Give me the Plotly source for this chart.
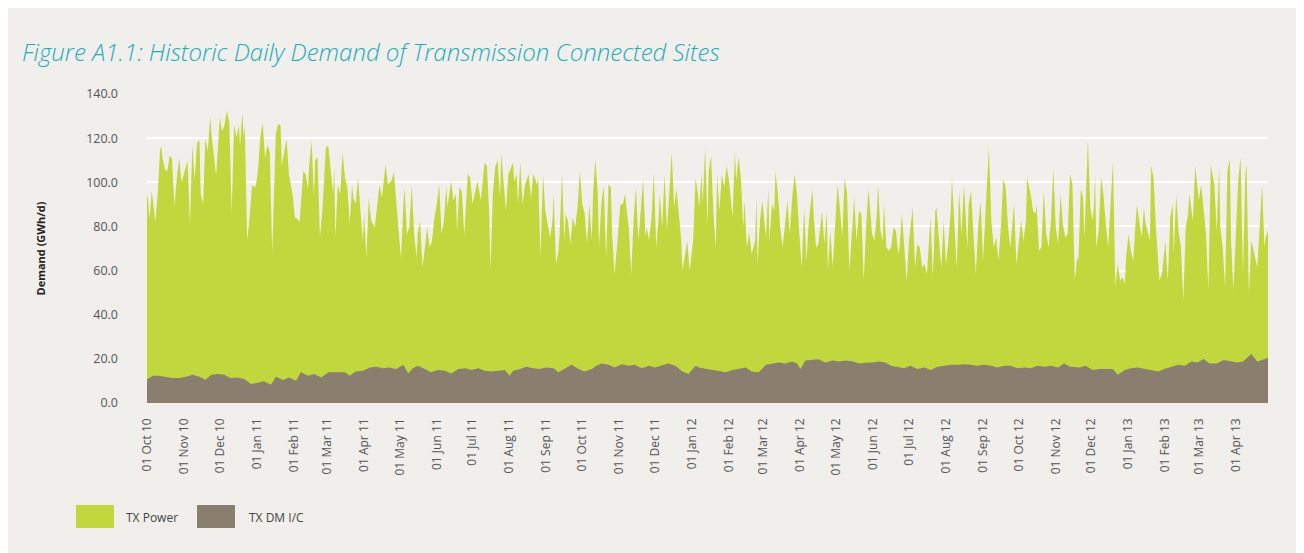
import datetime as dt
import plotly.graph_objects as go

# ---------------- data ----------------
start_date = dt.date(2010, 10, 1)

# (days since 01 Oct 10, top of the stacked area = TX Power + TX DM I/C, GWh/d)
tx_total_readings = [
    (0, 94), (1, 91.7), (2, 83.4), (4, 96), (7, 82), (9, 95), (11, 115), (12, 116), (13, 111), (15, 106),
    (17, 105), (19, 112), (21, 110.5), (23, 89), (25, 102), (27, 111), (29, 100), (31, 104), (34, 110),
    (36, 81), (38, 117), (40, 101), (42, 118), (44, 119), (45, 95), (47, 90), (49, 120), (51, 114),
    (53, 130), (54, 122), (56, 113.5), (58, 103), (60, 120), (61, 129.4), (63, 123), (65, 126),
    (67, 132.4), (69, 127), (71, 86), (73, 126), (75, 120.4), (77, 125.6), (78, 116.6), (80, 131.7),
    (81, 120.4), (82, 125), (84, 73.5), (86, 84), (88, 98.5), (91, 97.7), (93, 105), (95, 120.4),
    (97, 127), (99, 111), (101, 117), (103, 113.5), (105, 67.5), (108, 122), (110, 126.4), (112, 125.6),
    (113, 107.5), (115, 113.5), (117, 119.6), (119, 103.7), (122, 94.7), (124, 84), (126, 83.4),
    (128, 82), (129, 91.7), (131, 105), (133, 103.7), (135, 97), (136, 108), (138, 119), (140, 93),
    (141, 110), (143, 111.3), (145, 75), (147, 87), (150, 115.8), (152, 116.6),
    (154, 105), (156, 94.7), (157, 106.8), (158, 75), (160, 99), (162, 94.7), (164, 113.5), (166, 102),
    (168, 97.7), (170, 81), (172, 99), (173, 93), (175, 90), (177, 102), (179, 87), (181, 73.5),
    (182, 85.6), (184, 66), (186, 93), (188, 82.6), (191, 79.6), (193, 90), (195, 99), (197, 93),
    (199, 102), (200, 108), (202, 99), (205, 100.7), (207, 104.5), (209, 91.7), (211, 75), (213, 65),
    (215, 90), (216, 97.7), (218, 76.6), (220, 79.6), (222, 98.5), (224, 76.6), (226, 66), (227, 76.6),
    (229, 82.6), (231, 61.4), (233, 70.5), (235, 79.6), (237, 70.5), (239, 73.5), (241, 84), (243, 90),
    (245, 99), (247, 76.6), (249, 82.6), (251, 98.5), (252, 88.6), (255, 100.7), (257, 91.7),
    (259, 94.7), (260, 78), (262, 97.7), (264, 96), (266, 75.8), (269, 103.7), (271, 102), (273, 90),
    (275, 94.7), (277, 100.7), (279, 94.7), (280, 91.7), (283, 109), (285, 107.5), (287, 85.6),
    (288, 60), (290, 94.7), (292, 106.8), (294, 110), (296, 93), (297, 113.5), (299, 102), (301, 87),
    (303, 103.7), (305, 106.8),
    (307, 109), (308, 100), (310, 103.7), (311, 90), (313, 109), (315, 90), (317, 99), (319, 102),
    (320, 103.7), (322, 93), (324, 103.7), (327, 99), (328, 102), (330, 66), (332, 103.7), (334, 87),
    (336, 81), (338, 75), (340, 82.6), (341, 94.7), (343, 63), (345, 69), (346, 76.6), (348, 103.7),
    (350, 73.5), (351, 85.6), (353, 82.6), (355, 72), (357, 84), (359, 79.6), (361, 88.6), (363, 105),
    (365, 90), (367, 85.6), (369, 72), (371, 90), (373, 73.5), (374, 94.7), (376, 110.5), (378, 94.7),
    (379, 70.5), (381, 90), (383, 98.5), (385, 66), (387, 99), (389, 97.7), (390, 76.6), (392, 58.4),
    (394, 70.5), (397, 90), (399, 90), (401, 94.7), (402, 88.6), (404, 79.6), (406, 58.4), (408, 82.6),
    (410, 97.7), (412, 73.5), (414, 87), (416, 101.5), (418, 75), (419, 79.6), (421, 73.5), (423, 84),
    (425, 104.5), (427, 70.5), (429, 84), (430, 94.7), (432, 79.6), (434, 103.7), (436, 78), (438, 96),
    (440, 113.5), (442, 88.6), (444, 97), (446, 85.6), (448, 73.5), (449, 60), (451, 66), (453, 73.5),
    (455, 60), (458, 73.5), (460, 102), (462, 94.7),
    (463, 88.6), (465, 103.7), (466, 90), (468, 115.8), (470, 81), (471, 105), (473, 112), (475, 85.6),
    (477, 70.5), (478, 103.7), (480, 87), (482, 103.7), (484, 97.7), (486, 107.5), (488, 100.7),
    (491, 84), (493, 114.3), (494, 100.7), (496, 111.3), (498, 102), (500, 79.6), (501, 91.7),
    (503, 70.5), (505, 77.3), (507, 67.5), (510, 73.5), (511, 93), (512, 63), (514, 82.6), (516, 91.7),
    (519, 75), (521, 97), (522, 73.5), (524, 90), (526, 87), (527, 105), (529, 94.7), (531, 79.6),
    (533, 70.5), (535, 81), (537, 91.7), (539, 76.6), (541, 93), (543, 103.7), (545, 94.7), (547, 76.6),
    (549, 61.4), (551, 88.6), (553, 64.5), (555, 82.6), (558, 97), (559, 85.6), (561, 70.5), (563, 72),
    (566, 87), (568, 72), (570, 87), (571, 60), (573, 78), (575, 61.4), (577, 79.6), (579, 99),
    (581, 88.6), (583, 75), (585, 102), (587, 94.7), (589, 60), (591, 76.6), (593, 93), (595, 73.5),
    (597, 87), (599, 85.6), (601, 55.4), (603, 79.6), (605, 97), (608, 76.6), (610, 73.5), (612, 85.6),
    (613, 99), (615, 78), (617, 73.5), (618, 90),
    (620, 70.5), (622, 69), (624, 70.5), (626, 79.6), (628, 78), (630, 67.5), (631, 70.5), (633, 85.6),
    (635, 70.5), (637, 55.4), (639, 73.5), (642, 88.6), (644, 61.4), (646, 72), (648, 70.5),
    (650, 61.4), (652, 63), (654, 58.4), (657, 84), (659, 57), (661, 87), (662, 88.6), (664, 75),
    (666, 61.4), (668, 82.6), (670, 63), (672, 73.5), (674, 87), (675, 101.5), (677, 81), (679, 61.4),
    (681, 96), (683, 76.6), (685, 99), (688, 70.5), (689, 90), (691, 96), (693, 76.6), (695, 58.4),
    (697, 79.6), (699, 91.7), (701, 64.5), (703, 85.6), (704, 97.7), (706, 115.8), (708, 82.6),
    (710, 70.5), (712, 75), (714, 64.5), (716, 79.6), (718, 101.5), (720, 97.7), (722, 79.6),
    (724, 70.5), (727, 90), (729, 63), (731, 72), (733, 82.6), (735, 73.5), (737, 82.6), (738, 102),
    (741, 94.7), (743, 87), (745, 85.6), (746, 90), (748, 69), (750, 70.5), (752, 96), (754, 76.6),
    (756, 70.5), (758, 82.6), (760, 106), (762, 79.6), (764, 72), (766, 94.7), (768, 81), (770, 75),
    (772, 76.6), (774, 103.7),
    (776, 99), (778, 55.4), (780, 66), (781, 64.5), (783, 97), (785, 93), (786, 75), (787, 88.6),
    (789, 118.9), (791, 88.6), (793, 82.6), (794, 88.6), (795, 103.7), (796, 70.5), (798, 78),
    (800, 102), (802, 94.7), (804, 81), (806, 70.5), (808, 90), (810, 109.8), (812, 53), (814, 63),
    (816, 55.4), (818, 57), (820, 54), (821, 66), (823, 76.6), (825, 69), (827, 64.5), (830, 90),
    (832, 82.6), (834, 75), (836, 88.6), (837, 82.6), (839, 78), (841, 73.5), (842, 107.5), (844, 102),
    (846, 79.6), (849, 55.4), (851, 58.4), (853, 69), (854, 73.5), (856, 55.4), (858, 84), (860, 90),
    (861, 67.5), (863, 94.7), (865, 78), (867, 70.5), (869, 46.3), (871, 79.6), (873, 85.6),
    (874, 94.7), (877, 82.6), (879, 107.5), (881, 97.7), (882, 91.7), (884, 99), (886, 88.6),
    (888, 76.6), (890, 51), (892, 108), (894, 102), (895, 99), (897, 78), (899, 107.5), (900, 79.6),
    (902, 70.5), (904, 52.4), (906, 105), (908, 110.5), (909, 73.5), (911, 51), (913, 78), (915, 100.7),
    (917, 111.3), (919, 58.4), (921, 103.7), (922, 108), (924, 49.4), (926, 73.5), (928, 69),
    (931, 61.4), (933, 79.6), (935, 99), (937, 70.5), (938, 75), (940, 78),
]

# (days since 01 Oct 10, TX DM I/C, GWh/d)
tx_dm_readings = [
    (0, 10.8), (5, 12.4), (10, 12.4), (16, 11.9), (21, 11.3), (27, 11.3), (33, 11.9), (38, 12.8),
    (44, 11.9), (49, 10.5), (54, 12.8), (59, 13.1), (65, 12.8), (70, 11.3), (76, 11.6), (82, 10.8),
    (87, 8.6), (93, 9.2), (98, 9.8), (104, 8.3), (108, 11.9), (114, 10.4), (119, 11.6), (125, 10.1),
    (129, 13.9), (135, 12.4), (140, 13.1), (146, 11.6), (152, 13.9),
    (160, 13.9), (166, 13.9), (170, 12.4), (175, 14.3), (181, 14.6), (187, 16.1), (192, 16.4),
    (198, 15.8), (203, 16.1), (209, 15.4), (215, 17.3), (219, 13.4), (223, 15.8), (227, 16.9),
    (233, 15.4), (238, 13.9), (244, 14.9), (250, 14.6), (255, 13.4), (261, 15.4), (267, 15.8),
    (272, 14.9), (278, 15.8), (283, 14.6), (289, 14.3), (295, 14.6), (300, 14.9), (304, 12.4),
    (307, 14.6), (313, 15.4), (318, 16.4), (324, 15.8), (329, 15.4), (335, 16.1), (341, 15.8),
    (345, 13.9), (350, 15.4), (356, 17.3), (362, 15.4), (367, 14.3), (373, 15.4), (377, 16.9),
    (381, 17.9), (387, 17.3), (392, 16.1), (398, 17.6), (404, 16.9), (409, 17.3), (415, 15.8),
    (421, 16.9), (426, 16.1), (432, 16.9), (437, 17.9), (443, 16.9), (449, 14.3), (454, 13.1),
    (460, 16.9),
    (463, 16.1), (468, 15.4), (474, 14.9), (479, 14.6), (485, 13.9), (491, 14.9), (496, 15.4),
    (502, 16.1), (507, 14.3), (513, 13.9), (519, 17.3), (524, 17.9), (530, 18.3), (535, 17.9),
    (541, 18.8), (545, 17.9), (548, 15.4), (552, 19.2), (558, 19.5), (563, 19.8), (569, 18.3),
    (575, 19.2), (580, 18.8), (586, 19.2), (592, 18.8), (597, 17.9), (603, 18.2), (608, 18.3),
    (614, 18.8),
    (619, 18.3), (624, 16.9), (629, 16.4), (635, 15.8), (640, 16.9), (646, 15.4), (652, 16.1),
    (657, 14.9), (663, 16.4), (668, 16.9), (674, 17.3), (680, 17.3), (685, 17.6), (691, 17.3),
    (696, 16.9), (702, 17.3), (708, 16.9), (713, 16.1), (719, 16.9), (724, 16.9), (730, 15.8),
    (736, 16.1), (741, 15.8), (747, 16.9), (753, 16.4), (758, 16.9), (764, 16.1), (769, 17.9),
    (774, 16.4),
    (782, 16.1), (787, 16.9), (793, 14.9), (799, 15.4), (804, 15.4), (810, 15.4), (814, 12.8),
    (820, 14.9), (825, 15.8), (831, 16.1), (837, 15.4), (842, 14.9), (848, 14.3), (853, 15.4),
    (859, 16.4), (865, 17.3), (870, 16.9), (876, 18.8), (881, 18.3), (886, 19.9), (891, 17.9),
    (897, 17.9), (903, 19.5), (908, 18.8), (914, 18.3), (919, 18.8), (926, 22.2), (931, 18.8),
    (936, 19.5), (940, 20.4),
]

series_names = ["TX Power", "TX DM I/C"]
y_ticks = [0, 20, 40, 60, 80, 100, 120, 140]

# ---------------- styling ----------------
BG = "#f0efeb"
GREEN = "#c0d73d"
BROWN = "#8a7f6e"
TEAL = "#25abbc"
FONT = "Open Sans, Noto Sans, sans-serif"

# the page adds an 8px body margin, so the figure is sized/placed to compensate
W, H = 1296, 545
L, T, R, B = 139, 86, 36, 150
PW, PH = W - L - R, H - T - B


def to_dates(readings):
    return [start_date + dt.timedelta(days=d) for d, _ in readings]


fig = go.Figure()
fig.add_trace(go.Scatter(
    x=to_dates(tx_total_readings), y=[v for _, v in tx_total_readings],
    name=series_names[0], mode="lines", line=dict(width=0, color=GREEN),
    fill="tozeroy", fillcolor=GREEN, showlegend=False,
))
fig.add_trace(go.Scatter(
    x=to_dates(tx_dm_readings), y=[v for _, v in tx_dm_readings],
    name=series_names[1], mode="lines", line=dict(width=0, color=BROWN),
    fill="tozeroy", fillcolor=BROWN, showlegend=False,
))

last_day = max(d for d, _ in tx_total_readings)

fig.update_layout(
    width=W, height=H,
    paper_bgcolor=BG, plot_bgcolor=BG,
    margin=dict(l=L, r=R, t=T, b=B),
    font=dict(family=FONT, color="#555555", size=12),
    title=dict(
        text="<i>Figure A1.1: Historic Daily Demand of Transmission Connected Sites</i>",
        font=dict(family=FONT, size=24, color=TEAL, weight=300),
        xref="container", x=14 / W, xanchor="left",
        yref="container", y=1 - 45 / H, yanchor="middle",
    ),
    xaxis=dict(
        type="date",
        range=[start_date, start_date + dt.timedelta(days=last_day)],
        tick0="2010-10-01", dtick="M1", tickformat="%d %b %y",
        tickangle=-90, showgrid=False, zeroline=False, showline=False,
        ticks="", ticklabelstandoff=12,
        tickfont=dict(size=12, color="#555555"),
    ),
    yaxis=dict(
        range=[0, 140], tickvals=y_ticks, tickformat=".1f",
        showgrid=True, gridcolor="#ffffff", gridwidth=2,
        zeroline=False, showline=False, ticks="", ticklabelstandoff=28,
        tickfont=dict(size=12.5, color="#555555"),
    ),
    showlegend=False,
)

# y-axis title
fig.add_annotation(
    text="<b>Demand (GWh/d)</b>", textangle=-90,
    xref="paper", yref="paper", x=(32 - L) / PW, y=0.5,
    xanchor="center", yanchor="middle", showarrow=False,
    font=dict(family=FONT, size=11, color="#222222"),
)

# legend drawn as swatches + labels (page x positions minus the 8px body margin)
legend_items = [(series_names[0], GREEN, 68, 116), (series_names[1], BROWN, 189, 239)]
for name, color, sx, tx in legend_items:
    fig.add_shape(
        type="rect", xref="paper", yref="paper",
        x0=(sx - L) / PW, x1=(sx + 38 - L) / PW,
        y0=(H - B - 520) / PH, y1=(H - B - 497) / PH,
        fillcolor=color, line=dict(width=0),
    )
    fig.add_annotation(
        text=name, xref="paper", yref="paper",
        x=(tx - L) / PW, y=(H - B - 509) / PH,
        xanchor="left", yanchor="middle", showarrow=False,
        font=dict(family=FONT, size=12, color="#444444"),
    )

fig.write_html("out.html")
